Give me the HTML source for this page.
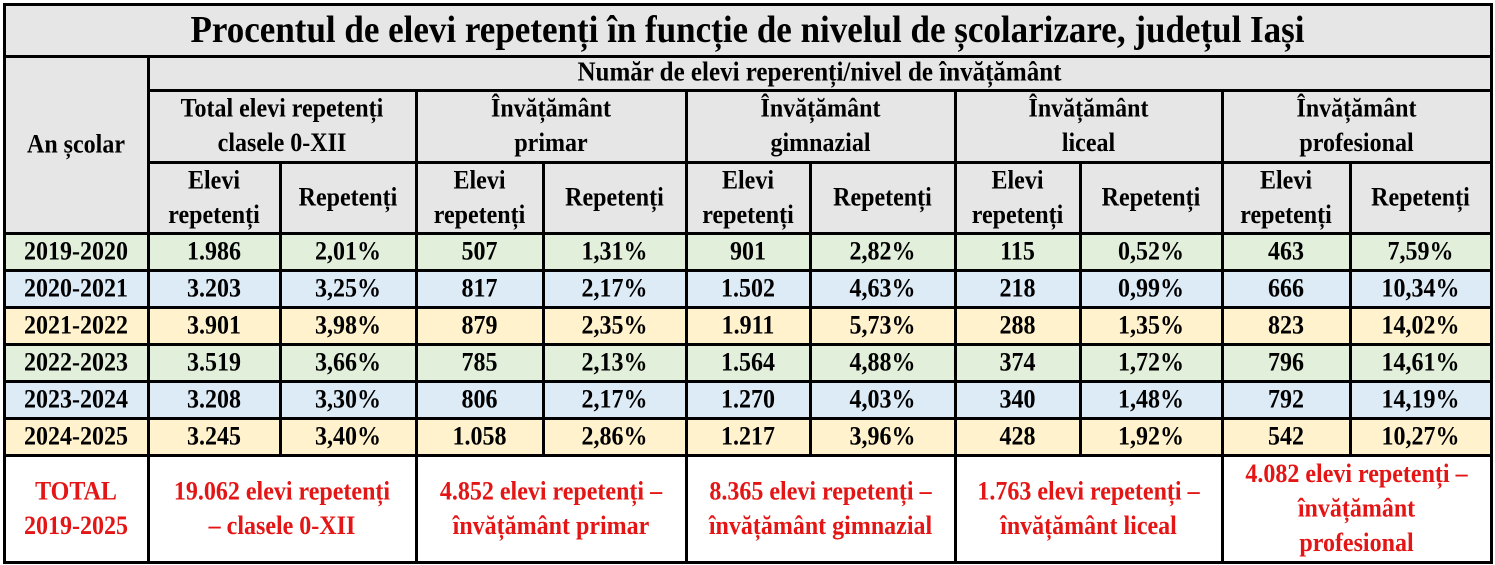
<!DOCTYPE html>
<html><head><meta charset="utf-8"><style>
body{margin:0;width:1495px;height:565px;background:#fff;position:relative;overflow:hidden;font-family:"Liberation Serif",serif;font-weight:bold;color:#000}
.c{position:absolute;display:flex;align-items:center;justify-content:center;text-align:center;font-size:24px;line-height:32px;box-sizing:border-box;white-space:nowrap}
.c span{display:inline-block;transform:scaleY(1.08)}
.h{position:absolute;background:#000;height:3px}
.v{position:absolute;background:#000;width:3px}
.r{color:#e41515}
</style></head><body>
<script>
const X=[4,148,280,416,543,686,810,955,1080,1222,1350,1491];
const R=[233,270,307,344,381,418,455];
const root=document.body;
function cell(x0,y0,x1,y1,bg,html,cls,fs){const d=document.createElement('div');d.className='c'+(cls?' '+cls:'');d.style.cssText=`left:${x0}px;top:${y0}px;width:${x1-x0}px;height:${y1-y0}px;background:${bg};`+(fs?`font-size:${fs}px;`:'');d.innerHTML='<span>'+html+'</span>';root.appendChild(d);}
const G='#e7e6e6';
cell(4,4,1491,56,G,'Procentul de elevi repetenți în funcție de nivelul de școlarizare, județul Iași','',35);
cell(4,56,148,233,G,'An școlar');
cell(148,56,1491,90,G,'Număr de elevi reperenți/nivel de învățământ','',25);
const grp=['Total elevi repetenți<br>clasele 0-XII','Învățământ<br>primar','Învățământ<br>gimnazial','Învățământ<br>liceal','Învățământ<br>profesional'];
for(let i=0;i<5;i++){cell(X[1+2*i],90,X[3+2*i],162,G,grp[i]);cell(X[1+2*i],162,X[2+2*i],233,G,'Elevi<br>repetenți');cell(X[2+2*i],162,X[3+2*i],233,G,'Repetenți');}
const data=[
['2019-2020','1.986','2,01%','507','1,31%','901','2,82%','115','0,52%','463','7,59%'],
['2020-2021','3.203','3,25%','817','2,17%','1.502','4,63%','218','0,99%','666','10,34%'],
['2021-2022','3.901','3,98%','879','2,35%','1.911','5,73%','288','1,35%','823','14,02%'],
['2022-2023','3.519','3,66%','785','2,13%','1.564','4,88%','374','1,72%','796','14,61%'],
['2023-2024','3.208','3,30%','806','2,17%','1.270','4,03%','340','1,48%','792','14,19%'],
['2024-2025','3.245','3,40%','1.058','2,86%','1.217','3,96%','428','1,92%','542','10,27%']];
const bgs=['#e2efda','#ddebf7','#fff2cc'];
data.forEach((row,r)=>row.forEach((t,c)=>cell(X[c],R[r],X[c+1],R[r+1],bgs[r%3],t)));
cell(4,455,148,562,'#fff','TOTAL<br>2019-2025','r');
const tot=['19.062 elevi repetenți<br>– clasele 0-XII','4.852 elevi repetenți –<br>învățământ primar','8.365 elevi repetenți –<br>învățământ gimnazial','1.763 elevi repetenți –<br>învățământ liceal','4.082 elevi repetenți –<br>învățământ<br>profesional'];
tot.forEach((t,i)=>cell(X[1+2*i],455,X[3+2*i],562,'#fff',t,'r'));
function h(x0,x1,y){const d=document.createElement('div');d.className='h';d.style.cssText=`left:${x0-1}px;width:${x1-x0+3}px;top:${y-1}px`;root.appendChild(d);}
function v(x,y0,y1){const d=document.createElement('div');d.className='v';d.style.cssText=`left:${x-1}px;top:${y0-1}px;height:${y1-y0+3}px`;root.appendChild(d);}
h(4,1491,4);h(4,1491,56);h(148,1491,90);h(148,1491,162);
R.forEach(y=>h(4,1491,y));h(4,1491,562);
v(4,4,562);v(1491,4,562);v(148,56,562);
for(let i=0;i<5;i++){v(X[3+2*i],90,562);v(X[2+2*i],162,455);}
</script>
</body></html>
